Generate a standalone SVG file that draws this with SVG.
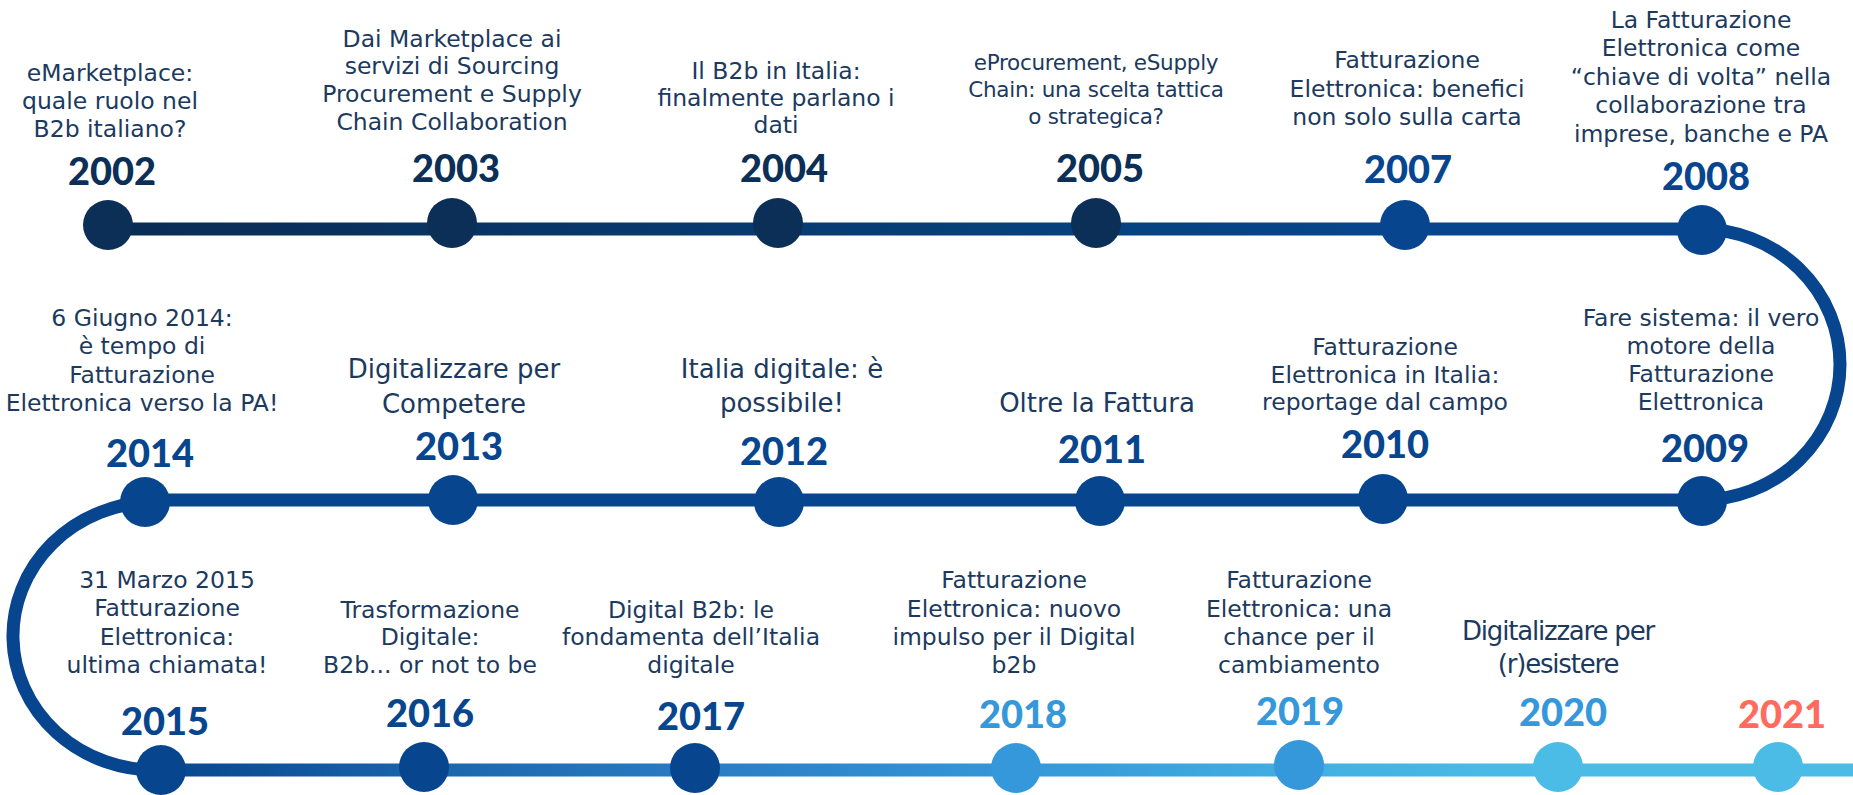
<svg xmlns="http://www.w3.org/2000/svg" width="1853" height="795" viewBox="0 0 1853 795">
<style>
.d{font-family:"DejaVu Sans","Noto Sans",sans-serif;font-size:23.5px;fill:#1c3a5e;text-anchor:middle}
.big{font-size:26px}
.cond{font-size:21.5px;letter-spacing:-0.3px}
.cond2{font-size:26px;letter-spacing:-1.2px}
.y{font-family:Lato,"Liberation Sans",sans-serif;font-weight:900;font-size:38px;text-anchor:middle}
.c1{fill:#0b2f57}.c2{fill:#07468f}.c3{fill:#3598da}.c4{fill:#4bbce6}.c5{fill:#ff6b5e}
.ln{fill:none;stroke-width:13}
</style>
<defs>
<linearGradient id="g1" gradientUnits="userSpaceOnUse" x1="100" y1="0" x2="1702" y2="0">
<stop offset="0" stop-color="#0a2c54"/><stop offset="0.62" stop-color="#06427f"/><stop offset="0.82" stop-color="#07468f"/><stop offset="1" stop-color="#07468f"/>
</linearGradient>
<linearGradient id="g3" gradientUnits="userSpaceOnUse" x1="160" y1="0" x2="1853" y2="0">
<stop offset="0" stop-color="#07468f"/><stop offset="0.16" stop-color="#1a66ad"/><stop offset="0.32" stop-color="#2a7cc4"/><stop offset="0.5" stop-color="#3497d8"/><stop offset="0.7" stop-color="#44b2e3"/><stop offset="0.82" stop-color="#4bbce6"/><stop offset="1" stop-color="#4bbce6"/>
</linearGradient>
</defs>
<rect width="1853" height="795" fill="#ffffff"/>
<g id="connectors">
<path class="ln" stroke="url(#g1)" d="M100 229 H1702"/>
<path class="ln" stroke="#07468f" d="M1700 229 A140 135.5 0 0 1 1700 500"/>
<path class="ln" stroke="#07468f" d="M1702 500 H150"/>
<path class="ln" stroke="#07468f" d="M152 502 A142 134 0 0 0 158 770"/>
<path class="ln" stroke="url(#g3)" d="M155 770 H1853"/>
</g>
<g id="node-2002"><circle class="c1" cx="108" cy="225" r="25"/><text class="y c1" x="112" y="185">2002</text>
<text class="d"><tspan x="110" y="81">eMarketplace:</tspan><tspan x="110" y="109">quale ruolo nel</tspan><tspan x="110" y="137">B2b italiano?</tspan></text></g>
<g id="node-2003"><circle class="c1" cx="452" cy="223" r="25"/><text class="y c1" x="456" y="182">2003</text>
<text class="d"><tspan x="452" y="47">Dai Marketplace ai</tspan><tspan x="452" y="74">servizi di Sourcing</tspan><tspan x="452" y="102">Procurement e Supply</tspan><tspan x="452" y="130">Chain Collaboration</tspan></text></g>
<g id="node-2004"><circle class="c1" cx="778" cy="223" r="25"/><text class="y c1" x="784" y="182">2004</text>
<text class="d"><tspan x="776" y="79">Il B2b in Italia:</tspan><tspan x="776" y="106">finalmente parlano i</tspan><tspan x="776" y="133">dati</tspan></text></g>
<g id="node-2005"><circle class="c1" cx="1096" cy="223" r="25"/><text class="y c1" x="1100" y="182">2005</text>
<text class="d cond"><tspan x="1096" y="70">eProcurement, eSupply</tspan><tspan x="1096" y="97">Chain: una scelta tattica</tspan><tspan x="1096" y="124">o strategica?</tspan></text></g>
<g id="node-2007"><circle class="c2" cx="1405" cy="225" r="25"/><text class="y c2" x="1408" y="183">2007</text>
<text class="d"><tspan x="1407" y="68">Fatturazione</tspan><tspan x="1407" y="97">Elettronica: benefici</tspan><tspan x="1407" y="125">non solo sulla carta</tspan></text></g>
<g id="node-2008"><circle class="c2" cx="1702" cy="230" r="25"/><text class="y c2" x="1706" y="190">2008</text>
<text class="d"><tspan x="1701" y="28">La Fatturazione</tspan><tspan x="1701" y="56">Elettronica come</tspan><tspan x="1701" y="85">“chiave di volta” nella</tspan><tspan x="1701" y="113">collaborazione tra</tspan><tspan x="1701" y="142">imprese, banche e PA</tspan></text></g>
<g id="node-2009"><circle class="c2" cx="1702" cy="501" r="25"/><text class="y c2" x="1705" y="462">2009</text>
<text class="d"><tspan x="1701" y="326">Fare sistema: il vero</tspan><tspan x="1701" y="354">motore della</tspan><tspan x="1701" y="382">Fatturazione</tspan><tspan x="1701" y="410">Elettronica</tspan></text></g>
<g id="node-2010"><circle class="c2" cx="1383" cy="499" r="25"/><text class="y c2" x="1385" y="458">2010</text>
<text class="d"><tspan x="1385" y="355">Fatturazione</tspan><tspan x="1385" y="383">Elettronica in Italia:</tspan><tspan x="1385" y="410">reportage dal campo</tspan></text></g>
<g id="node-2011"><circle class="c2" cx="1100" cy="501" r="25"/><text class="y c2" x="1102" y="463">2011</text>
<text class="d big"><tspan x="1097" y="412">Oltre la Fattura</tspan></text></g>
<g id="node-2012"><circle class="c2" cx="779" cy="502" r="25"/><text class="y c2" x="784" y="465">2012</text>
<text class="d big"><tspan x="782" y="378">Italia digitale: è</tspan><tspan x="782" y="412">possibile!</tspan></text></g>
<g id="node-2013"><circle class="c2" cx="453" cy="500" r="25"/><text class="y c2" x="459" y="460">2013</text>
<text class="d big"><tspan x="454" y="378">Digitalizzare per</tspan><tspan x="454" y="413">Competere</tspan></text></g>
<g id="node-2014"><circle class="c2" cx="145" cy="502" r="25"/><text class="y c2" x="150" y="467">2014</text>
<text class="d"><tspan x="142" y="326">6 Giugno 2014:</tspan><tspan x="142" y="354">è tempo di</tspan><tspan x="142" y="383">Fatturazione</tspan><tspan x="142" y="411">Elettronica verso la PA!</tspan></text></g>
<g id="node-2015"><circle class="c2" cx="161" cy="770" r="25"/><text class="y c2" x="165" y="735">2015</text>
<text class="d"><tspan x="167" y="588">31 Marzo 2015</tspan><tspan x="167" y="616">Fatturazione</tspan><tspan x="167" y="645">Elettronica:</tspan><tspan x="167" y="673">ultima chiamata!</tspan></text></g>
<g id="node-2016"><circle class="c2" cx="424" cy="767" r="25"/><text class="y c2" x="430" y="727">2016</text>
<text class="d"><tspan x="430" y="618">Trasformazione</tspan><tspan x="430" y="645">Digitale:</tspan><tspan x="430" y="673">B2b... or not to be</tspan></text></g>
<g id="node-2017"><circle class="c2" cx="695" cy="768" r="25"/><text class="y c2" x="701" y="730">2017</text>
<text class="d"><tspan x="691" y="618">Digital B2b: le</tspan><tspan x="691" y="645">fondamenta dell’Italia</tspan><tspan x="691" y="673">digitale</tspan></text></g>
<g id="node-2018"><circle class="c3" cx="1016" cy="768" r="25"/><text class="y c3" x="1023" y="728">2018</text>
<text class="d"><tspan x="1014" y="588">Fatturazione</tspan><tspan x="1014" y="617">Elettronica: nuovo</tspan><tspan x="1014" y="645">impulso per il Digital</tspan><tspan x="1014" y="673">b2b</tspan></text></g>
<g id="node-2019"><circle class="c3" cx="1299" cy="765" r="25"/><text class="y c3" x="1300" y="725">2019</text>
<text class="d"><tspan x="1299" y="588">Fatturazione</tspan><tspan x="1299" y="617">Elettronica: una</tspan><tspan x="1299" y="645">chance per il</tspan><tspan x="1299" y="673">cambiamento</tspan></text></g>
<g id="node-2020"><circle class="c4" cx="1558" cy="767" r="25"/><text class="y c3" x="1563" y="726">2020</text>
<text class="d cond2"><tspan x="1558" y="640">Digitalizzare per</tspan><tspan x="1558" y="673">(r)esistere</tspan></text></g>
<g id="node-2021"><circle class="c4" cx="1778" cy="767" r="25"/><text class="y c5" x="1782" y="728">2021</text></g>
</svg>
